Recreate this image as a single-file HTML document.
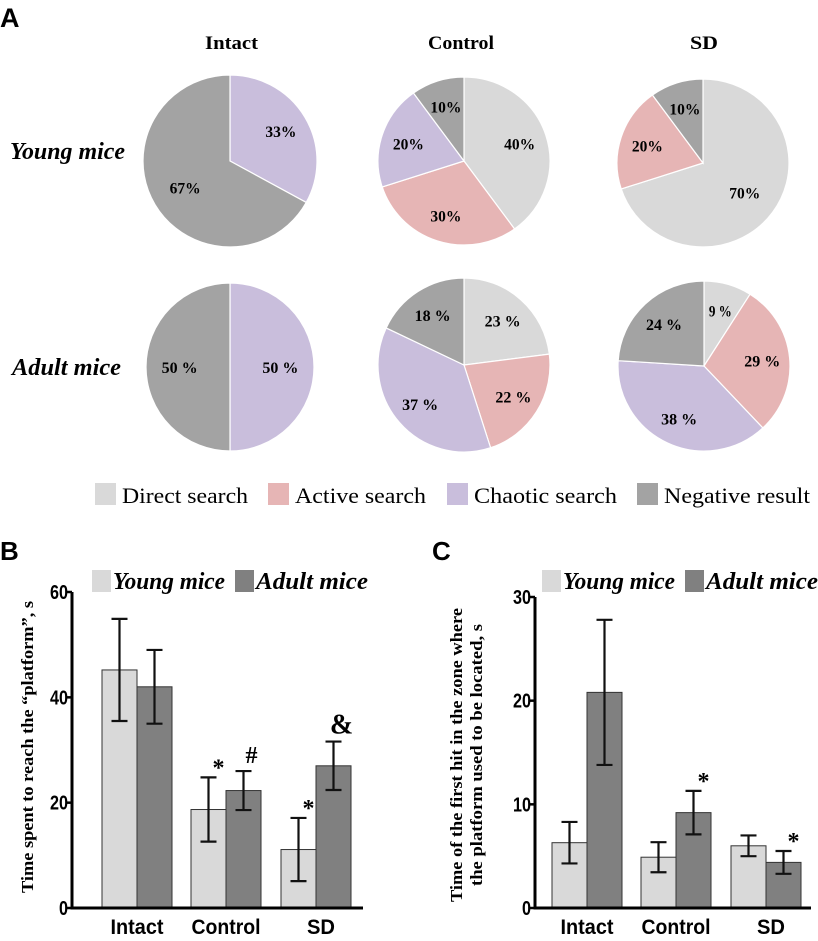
<!DOCTYPE html>
<html><head><meta charset="utf-8"><style>
body{margin:0;background:#fff;}
svg{display:block;font-family:"Liberation Serif",serif;}
</style></head><body>
<svg width="818" height="941" viewBox="0 0 818 941">
<g id="pies"></g>
<g id="barB"></g>
<g id="barC"></g>
</svg>
<script>
const NS="http://www.w3.org/2000/svg";
function mk(p,t,a,txt){const e=document.createElementNS(NS,t);for(const k in a)e.setAttribute(k,a[k]);if(txt!==undefined)e.textContent=txt;p.appendChild(e);return e;}
function tl(e,len){e.setAttribute("textLength",len);e.setAttribute("lengthAdjust","spacingAndGlyphs");return e;}
const colorDirect="#d9d9d9",colorActive="#e6b5b5",colorChaotic="#c9bedc",colorNeg="#a3a3a3";
const pieCats=["Direct search","Active search","Chaotic search","Negative result"];
const pieColors=[colorDirect,colorActive,colorChaotic,colorNeg];
const pieIntactYoung=[0,0,33,67];
const pieControlYoung=[40,30,20,10];
const pieSDYoung=[70,20,0,10];
const pieIntactAdult=[0,0,50,50];
const pieControlAdult=[23,22,37,18];
const pieSDAdult=[9,29,38,24];
const pieLabelsSpace=[false,false,false,true,true,true];
const groups=["Intact","Control","SD"];
const barYoungB=[45.2,18.7,11.1],barYoungBErr=[9.7,6.1,6.0];
const barAdultB=[42,22.3,27],barAdultBErr=[7,3.7,4.6];
const barYoungC=[6.3,4.9,6.0],barYoungCErr=[2.0,1.45,1.0];
const barAdultC=[20.8,9.2,4.4],barAdultCErr=[7.0,2.1,1.1];
const ticksB=[0,20,40,60],ticksC=[0,10,20,30];

const svg=document.querySelector("svg");
let t=mk(svg,"text",{x:0,y:27,"font-family":"Liberation Sans,sans-serif","font-weight":"bold","font-size":"27"},"A");

const P=document.getElementById("pies");
[["Intact",205,53],["Control",428,66],["SD",690,28]].forEach(([s,x,w])=>{const e=tl(mk(P,"text",{x:x,y:49,"font-weight":"bold","font-size":"19"},s),w);
});
[["Young mice",159,10,115],["Adult mice",375,12,109]].forEach(([s,y,x,w])=>{const e=tl(mk(P,"text",{x:x,y:y,"font-weight":"bold","font-style":"italic","font-size":"24"},s),w);
});
const pieSets=[[pieIntactYoung,230,161,87,86],[pieControlYoung,464,161,86,84],[pieSDYoung,703,163,86,84],
[pieIntactAdult,230,367,84,84],[pieControlAdult,464,365,86,87],[pieSDAdult,704,366,86,85]];
pieSets.forEach(([vals,cx,cy,rx,ry],pi)=>{
 const tot=vals.reduce((a,b)=>a+b,0);let a0=0;
 vals.forEach((v,i)=>{if(!v)return;const a1=a0+v/tot*2*Math.PI;
  const p=(a)=>[cx+rx*Math.sin(a),cy-ry*Math.cos(a)];
  const [x0,y0]=p(a0),[x1,y1]=p(a1);
  const s=mk(P,"path",{d:`M${cx},${cy}L${x0},${y0}A${rx},${ry} 0 ${a1-a0>Math.PI?1:0} 1 ${x1},${y1}Z`,fill:pieColors[i],stroke:"#fff","stroke-width":1.2});
  
  const am=(a0+a1)/2,f=v>=50?0.6:0.68;
  const txt=v+(pieLabelsSpace[pi]?" %":"%");
  const l=tl(mk(P,"text",{x:cx+rx*f*Math.sin(am),y:cy-ry*f*Math.cos(am)+6,"text-anchor":"middle","font-weight":"bold","font-size":"16"},txt),(txt.length>3?36:31)-(String(v).length<2?8:0));
  
  a0=a1;});
});
[[95,"Direct search",126],[268,"Active search",131],[447,"Chaotic search",143],[637,"Negative result",146]].forEach(([x,s,w],i)=>{
 const r=mk(P,"rect",{x:x,y:483,width:21,height:22,fill:pieColors[i]});
 const e=tl(mk(P,"text",{x:x+27,y:503,"font-size":"22"},s),w);});

function bar(g,o){
 const ys=v=>o.y0-(v/o.max)*(o.y0-o.ytop);
 const lab=mk(g,"text",{x:o.lx,y:560,"font-family":"Liberation Sans,sans-serif","font-weight":"bold","font-size":"26"},o.letter);
 
 [[o.legx,colorDirect,"Young mice"],[o.legx+143,"#808080","Adult mice"]].forEach(([x,c,s])=>{
  const r=mk(g,"rect",{x:x,y:570,width:19,height:22,fill:c});
  const e=tl(mk(g,"text",{x:x+21,y:589,"font-weight":"bold","font-style":"italic","font-size":"24"},s),112);});
 o.ticks.forEach(v=>{const y=ys(v);
  const l=mk(g,"line",{x1:o.ax-5,x2:o.ax,y1:y,y2:y,stroke:"#000","stroke-width":2.5});
  const e=tl(mk(g,"text",{x:o.ax-4,y:y+7,"text-anchor":"end","font-family":"Liberation Sans,sans-serif","font-weight":"bold","font-size":"20"},v),String(v).length*9);});
 const lw=[53,69,28];
 groups.forEach((gname,i)=>{
  const x=o.gx[i];
  [[o.young,o.youngE,colorDirect,x,"bar-young"],[o.adult,o.adultE,"#808080",x+35,"bar-adult"]].forEach(([arr,err,c,bx,nm])=>{
   const v=arr[i],y=ys(v);
   const r=mk(g,"rect",{x:bx,y:y,width:35,height:o.y0-y,fill:c,stroke:"#333","stroke-width":1});
   
   const hi=ys(v+err[i]),lo=ys(v-err[i]),m=bx+17.5;
   const eb=mk(g,"path",{d:`M${m},${hi}V${lo}M${m-8},${hi}H${m+8}M${m-8},${lo}H${m+8}`,stroke:"#111","stroke-width":2.2,fill:"none"});
   });
  const e=tl(mk(g,"text",{x:x+35-lw[i]/2+(i===2?5:0),y:934,"font-family":"Liberation Sans,sans-serif","font-weight":"bold","font-size":"21"},gname),lw[i]);
  });
 const ax=mk(g,"path",{d:`M${o.ax},${o.ytop}V${o.y0}H${o.axEnd}`,stroke:"#000","stroke-width":3,fill:"none"});
 
 o.marks.forEach(([i,which,s,size])=>{const arr=which?o.adult:o.adult,err=which?o.adultE:o.youngE;
  const a2=which?o.adult:o.young;
  const x=o.gx[i]+(which?35:0)+17.5+(s==="*"?10:8),y=ys(a2[i]+err[i])-(s==="*"?2:8);
  const e=mk(g,"text",{x:x,y:y,"text-anchor":"middle","font-weight":"bold","font-size":size},s);});
 return ys;
}
bar(document.getElementById("barB"),{letter:"B",lx:0,legx:92,ax:72,axEnd:363,ytop:592,y0:908,max:60,ticks:ticksB,gx:[102,191,281],
 young:barYoungB,youngE:barYoungBErr,adult:barAdultB,adultE:barAdultBErr,marks:[[1,0,"*",24],[1,1,"#",24],[2,0,"*",24],[2,1,"&",28]]});
bar(document.getElementById("barC"),{letter:"C",lx:432,legx:542,ax:535,axEnd:811,ytop:597,y0:908,max:30,ticks:ticksC,gx:[552,641,731],
 young:barYoungC,youngE:barYoungCErr,adult:barAdultC,adultE:barAdultCErr,marks:[[1,1,"*",24],[2,1,"*",24]]});
let yt=tl(mk(svg,"text",{transform:"translate(33,747) rotate(-90)","text-anchor":"middle","font-weight":"bold","font-size":"17"},"Time spent to reach the “platform”, s"),292);

yt=mk(svg,"text",{transform:"translate(462,755) rotate(-90)","text-anchor":"middle","font-weight":"bold","font-size":"17"});

tl(mk(yt,"tspan",{x:0,dy:0},"Time of the first hit in the zone where"),294);
tl(mk(yt,"tspan",{x:0,dy:20},"the platform used to be located, s"),262);
</script>
</body></html>
